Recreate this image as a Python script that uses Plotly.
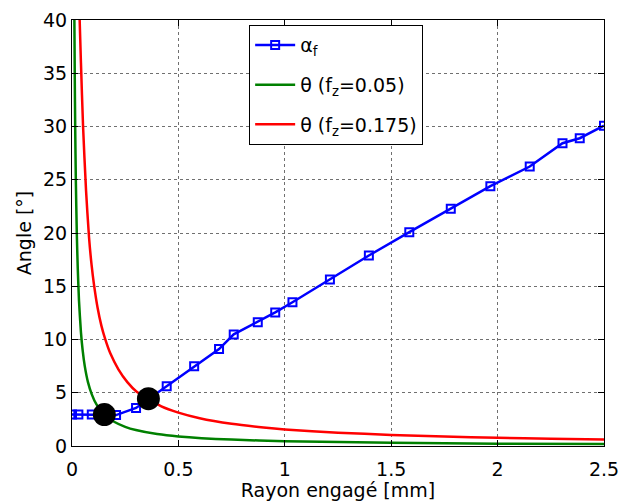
import plotly.graph_objects as go

# alpha_f series (blue, square markers)
alpha_x = [0, 0.03, 0.093, 0.207, 0.301, 0.445, 0.574, 0.691, 0.76, 0.873, 0.955,
           1.036, 1.212, 1.395, 1.585, 1.78, 1.966, 2.151, 2.305, 2.386, 2.5]
alpha_y = [2.95, 2.95, 2.95, 2.9, 3.57, 5.6, 7.48, 9.1, 10.48, 11.63, 12.54,
           13.5, 15.64, 17.89, 20.08, 22.27, 24.4, 26.24, 28.43, 28.9, 30.08]

# theta (fz=0.05) green curve
g_x = [0.0112, 0.013, 0.015, 0.018, 0.0225, 0.027, 0.033, 0.042, 0.05, 0.06, 0.075,
       0.093, 0.115, 0.152, 0.2, 0.25, 0.3, 0.4, 0.5, 0.75, 1.0, 1.5, 2.0, 2.5]
g_y = [40, 34.6, 30, 25, 20, 16.7, 13.6, 10.7, 9, 7.5, 6, 4.85, 3.9, 2.95, 2.25,
       1.8, 1.5, 1.12, 0.9, 0.6, 0.45, 0.3, 0.22, 0.18]

# theta (fz=0.175) red curve
r_x = [0.036, 0.042, 0.052, 0.066, 0.08, 0.092, 0.103, 0.12, 0.138, 0.155, 0.18,
       0.218, 0.26, 0.304, 0.359, 0.42, 0.5, 0.6, 0.75, 0.9, 1.0, 1.25, 1.5, 1.75,
       2.0, 2.25, 2.5]
r_y = [40, 36, 30, 24, 19.6, 17, 15.2, 13, 11.3, 10.1, 8.7, 7.2, 6.0, 5.1, 4.44,
       3.72, 3.13, 2.6, 2.08, 1.74, 1.56, 1.25, 1.04, 0.89, 0.78, 0.69, 0.61]

# intersection points (black dots)
pt_x = [0.152, 0.359]
pt_y = [2.95, 4.44]

x_ticks = [0, 0.5, 1, 1.5, 2, 2.5]
y_ticks = [0, 5, 10, 15, 20, 25, 30, 35, 40]

FONT = "DejaVu Sans, Liberation Sans, Arial, sans-serif"

fig = go.Figure()
fig.add_trace(go.Scatter(
    x=alpha_x, y=alpha_y, mode="lines+markers", name="α<sub>f</sub>",
    line=dict(color="#0000FF", width=2.5),
    marker=dict(symbol="square-open", size=8, color="#0000FF", line=dict(width=2)),
    legendgroup="a",
))
fig.add_trace(go.Scatter(
    x=g_x, y=g_y, mode="lines", name="θ (f<sub>z</sub>=0.05)",
    line=dict(color="#008000", width=2.5, shape="spline", smoothing=0.6),
    legendgroup="b",
))
fig.add_trace(go.Scatter(
    x=r_x, y=r_y, mode="lines", name="θ (f<sub>z</sub>=0.175)",
    line=dict(color="#FF0000", width=2.5, shape="spline", smoothing=0.6),
    legendgroup="c",
))
fig.add_trace(go.Scatter(
    x=pt_x, y=pt_y, mode="markers", showlegend=False,
    marker=dict(symbol="circle", size=23, color="black"),
))

axis_common = dict(
    showline=True, linecolor="black", linewidth=1, mirror="ticks",
    ticks="inside", ticklen=6, tickcolor="black", tickwidth=1,
    showgrid=True, gridcolor="#707070", gridwidth=1, griddash="dot",
    zeroline=False, tickfont=dict(family=FONT, size=19, color="black"),
    automargin=False,
)

fig.update_layout(
    width=622, height=501,
    margin=dict(l=72, r=18, t=20, b=55, autoexpand=False),
    paper_bgcolor="white", plot_bgcolor="white",
    font=dict(family=FONT, size=19, color="black"),
    showlegend=True,
    legend=dict(
        x=0.333, y=0.988, xanchor="left", yanchor="top",
        bgcolor="white", bordercolor="black", borderwidth=1,
        font=dict(family=FONT, size=19, color="black"),
        tracegroupgap=12, itemwidth=40,
    ),
    xaxis=dict(range=[0, 2.5], tickvals=x_ticks, ticktext=[str(v) for v in x_ticks],
               ticklabelstandoff=6,
               title=dict(text="Rayon engagé [mm]", standoff=3,
                          font=dict(family=FONT, size=19)),
               **axis_common),
    yaxis=dict(range=[0, 40], tickvals=y_ticks, ticktext=[str(v) for v in y_ticks],
               title=dict(text="Angle [°]", standoff=6,
                          font=dict(family=FONT, size=19)),
               **axis_common),
)

fig.write_html("out.html", config={"displayModeBar": False},
               post_script="document.body.style.margin='0px';")
